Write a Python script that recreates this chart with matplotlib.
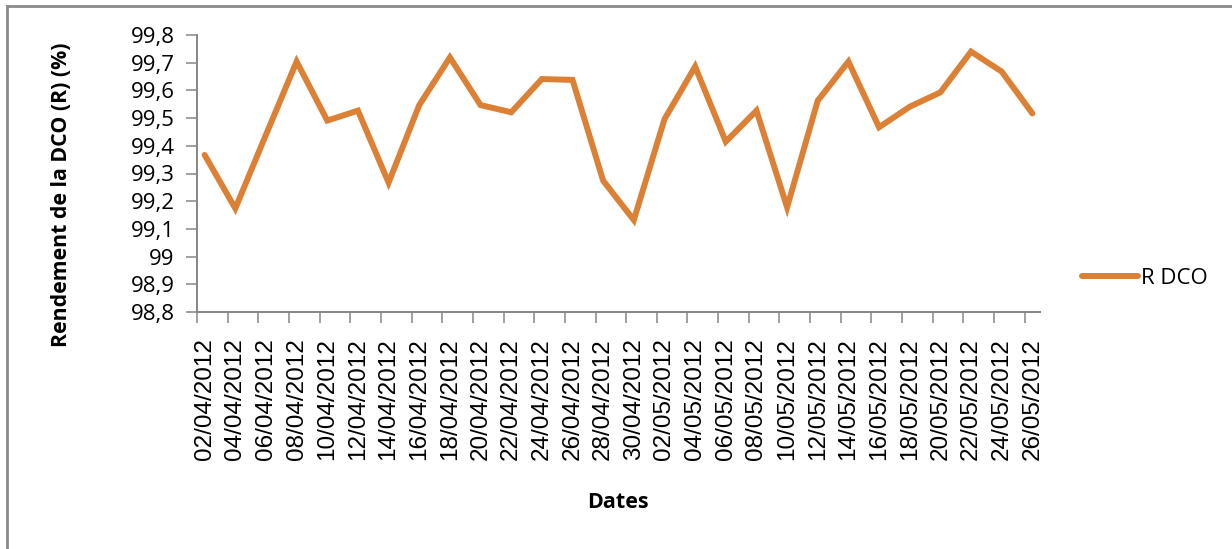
import pandas as pd
import matplotlib.pyplot as plt
from matplotlib.lines import Line2D
from matplotlib.ticker import FixedLocator, NullFormatter, FixedFormatter

# données
dates = ["02/04/2012", "04/04/2012", "06/04/2012", "08/04/2012", "10/04/2012",
         "12/04/2012", "14/04/2012", "16/04/2012", "18/04/2012", "20/04/2012",
         "22/04/2012", "24/04/2012", "26/04/2012", "28/04/2012", "30/04/2012",
         "02/05/2012", "04/05/2012", "06/05/2012", "08/05/2012", "10/05/2012",
         "12/05/2012", "14/05/2012", "16/05/2012", "18/05/2012", "20/05/2012",
         "22/05/2012", "24/05/2012", "26/05/2012"]
r_dco = [99.367, 99.174, 99.44, 99.704, 99.491, 99.527, 99.267, 99.547, 99.719, 99.547,
         99.521, 99.641, 99.638, 99.274, 99.132, 99.496, 99.686, 99.415, 99.527, 99.178,
         99.563, 99.704, 99.467, 99.541, 99.593, 99.740, 99.668, 99.517]
y_ticks = [98.8, 98.9, 99.0, 99.1, 99.2, 99.3, 99.4, 99.5, 99.6, 99.7, 99.8]
y_labels = ["98,8", "98,9", "99", "99,1", "99,2", "99,3", "99,4", "99,5", "99,6", "99,7", "99,8"]

orange = '#DC8035'
gris = '#868686'

d = pd.to_datetime(dates, dayfirst=True)
jours = (d - d[0]).days.values
x = jours + 0.5  # axe de dates : point au milieu du jour
n_jours = (d[-1] - d[0]).days + 1

fig = plt.figure(figsize=(12.32, 5.49), dpi=100)
ax = fig.add_axes([197 / 1232, 1 - 312 / 549, 843 / 1232, 277 / 549])

ax.plot(x, r_dco, color=orange, linewidth=4.3, solid_joinstyle='miter',
        solid_capstyle='round', label='R DCO')

ax.set_xlim(0, n_jours)
ax.set_ylim(98.8, 99.8)

ax.xaxis.set_major_locator(FixedLocator(jours))
ax.xaxis.set_major_formatter(NullFormatter())
ax.xaxis.set_minor_locator(FixedLocator(x))
ax.xaxis.set_minor_formatter(FixedFormatter(dates))
ax.tick_params(axis='x', which='major', length=8, width=1.1, color=gris, direction='out')
ax.tick_params(axis='x', which='minor', length=0, pad=19, labelsize=17.5, labelrotation=90)
for lab in ax.get_xticklabels(minor=True):
    lab.set_fontfamily('Liberation Sans')

ax.set_yticks(y_ticks)
ax.set_yticklabels(y_labels, fontfamily='Open Sans', fontsize=16)
ax.tick_params(axis='y', length=8, width=1.1, color=gris, direction='out', pad=8)

for s in ['top', 'right']:
    ax.spines[s].set_visible(False)
for s in ['left', 'bottom']:
    ax.spines[s].set_color(gris)
    ax.spines[s].set_linewidth(1.4)

fig.text(62 / 1232, 1 - 195 / 549, "Rendement de la DCO (R) (%)", rotation=90,
         ha='center', va='center', fontfamily='Open Sans', fontweight='bold', fontsize=15.3)
fig.text(618 / 1232, 1 - 503 / 549, "Dates", ha='center', va='center',
         fontfamily='Open Sans', fontweight='bold', fontsize=15.5)

fig.legend(loc='center left', bbox_to_anchor=(1062 / 1232, 1 - 278 / 549), frameon=False,
           prop={'family': 'Open Sans', 'size': 16}, handlelength=2.5, handletextpad=0.15)

# cadre du graphique
fig.add_artist(Line2D([7 / 1232, 7 / 1232], [0, 1 - 6 / 549], color='#8a8a8a', linewidth=2))
fig.add_artist(Line2D([7 / 1232, 1], [1 - 6 / 549, 1 - 6 / 549], color='#8a8a8a', linewidth=2))

fig.savefig("out.png", dpi=100)
